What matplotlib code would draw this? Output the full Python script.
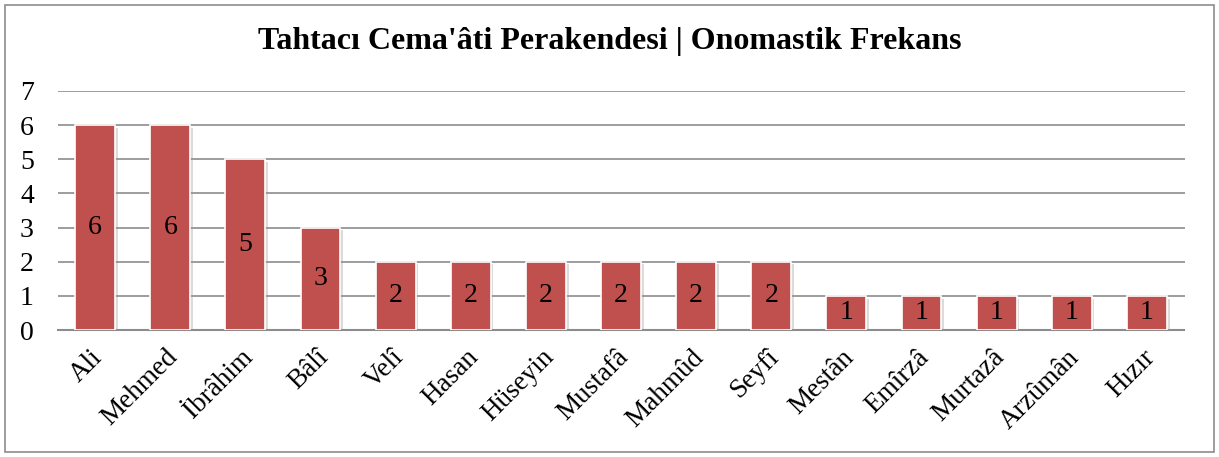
import matplotlib.pyplot as plt
import matplotlib.patheffects as pe
from matplotlib.patches import Rectangle
from matplotlib.transforms import ScaledTranslation

# names and how often they occur
names = ["Ali", "Mehmed", "İbrâhim", "Bâlî", "Velî", "Hasan", "Hüseyin", "Mustafâ",
         "Mahmûd", "Seyfî", "Mestân", "Emîrzâ", "Murtazâ", "Arzûmân", "Hızır"]
counts = [6, 6, 5, 3, 2, 2, 2, 2, 2, 2, 1, 1, 1, 1, 1]
yticks = [0, 1, 2, 3, 4, 5, 6, 7]

plt.rcParams['font.family'] = ['Liberation Serif', 'DejaVu Serif']

fig = plt.figure(figsize=(12.19, 4.57), dpi=100)
ax = fig.add_axes([57.5 / 1219, 1 - 330 / 457, 1127 / 1219, 239 / 457])

x = list(range(len(names)))
bars = ax.bar(x, counts, width=0.53, color='#C0504D', edgecolor='white', linewidth=1.2, zorder=3,
              path_effects=[pe.SimplePatchShadow(offset=(2, -2), shadow_rgbFace='#999999', alpha=0.35),
                            pe.Normal()])

for xi, c in zip(x, counts):
    ax.text(xi, c / 2, str(c), ha='center', va='center', fontsize=20, color='black', zorder=4)

ax.set_xlim(-0.5, len(names) - 0.5)
ax.set_ylim(0, 7)
ax.set_yticks(yticks)
ax.set_yticklabels([str(t) for t in yticks], fontsize=20)
ax.set_xticks(x)
ax.tick_params(axis='both', length=0)
ax.tick_params(axis='y', pad=17)
ax.tick_params(axis='x', pad=17)
ax.set_xticklabels(names, fontsize=19.5, rotation=45, ha='right', va='center',
                   rotation_mode='anchor')
shift = ScaledTranslation(4 / 100, 0, fig.dpi_scale_trans)
for lbl in ax.get_xticklabels():
    lbl.set_transform(lbl.get_transform() + shift)

ax.grid(axis='y', color='#8c8c8c', linewidth=1.2, zorder=0)
ax.set_axisbelow(True)
for s in ['top', 'right', 'left']:
    ax.spines[s].set_visible(False)
ax.spines['bottom'].set_color('#8c8c8c')
ax.spines['bottom'].set_linewidth(1.5)

fig.text(0.5, 1 - 42 / 457, "Tahtacı Cema'âti Perakendesi | Onomastik Frekans",
         ha='center', va='center', fontsize=23, fontweight='bold')

fig.patches.append(Rectangle((5 / 1219, 5 / 457), 1 - 10 / 1219, 1 - 10 / 457,
                             transform=fig.transFigure, fill=False, edgecolor='#8c8c8c', linewidth=1.2))

fig.savefig('out.png', dpi=100)
